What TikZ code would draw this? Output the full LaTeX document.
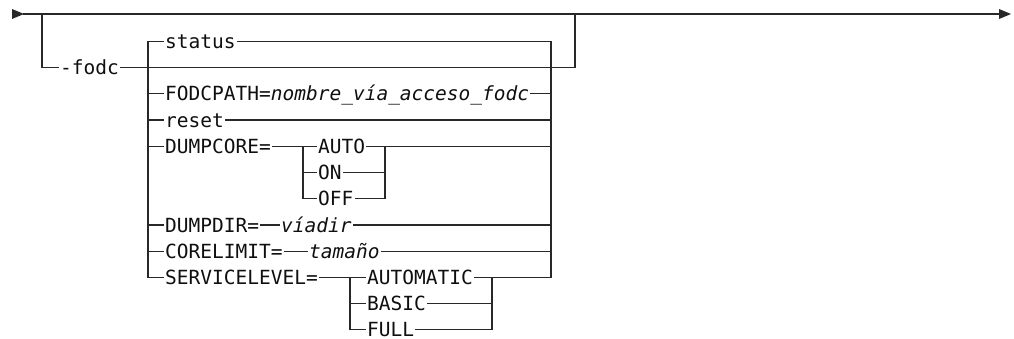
\documentclass[tikz,border=0pt]{standalone}
\usepackage{fontspec}
\newfontfamily\synfont{DejaVu Sans Mono}[ItalicFont={DejaVu Sans Mono Oblique}]
\definecolor{ln}{RGB}{40,40,40}
\definecolor{txt}{RGB}{15,15,15}
\begin{document}
\begin{tikzpicture}[x=1pt,y=-1pt,
  rail/.style={draw=ln,line width=1.2pt,line cap=rect},
  lbl/.style={font=\synfont\fontsize{19.5}{20}\selectfont, text=txt, inner xsep=1.5pt, inner ysep=0pt, text height=14.2pt, text depth=0pt, anchor=west}]
\useasboundingbox (0,0) rectangle (1014,339);

% main line and arrowheads
\coordinate (in) at (24,14);
\coordinate (out) at (999,14);
\coordinate (jA) at (42,14);
\coordinate (jB) at (575,14);
\fill[ln] (in) -- ++(-12,-5) -- ++(0,10) -- cycle;
\fill[ln] (out) -- ++(0,-5) -- ++(12,5) -- ++(-12,5) -- cycle;
\draw[rail] (in) -- (out);

% -fodc branch
\coordinate (bA) at (42,67.7);
\coordinate (bB) at (575,67.7);
\node[lbl] (fodc) at (58.5,67.7) {-fodc};
\draw[rail] (jA) -- (bA) -- (fodc.west);
\draw[rail] (fodc.east) -- (bB) -- (jB);

% inner choice box
\coordinate (Lt) at (148,41.5);
\coordinate (Lb) at (148,277.3);
\coordinate (Rt) at (551,41.5);
\coordinate (Rb) at (551,277.3);
\foreach \n/\y in {2/93.9,3/120.1,4/146.3,7/224.9,8/251.1} {
  \coordinate (L\n) at (148,\y);
  \coordinate (R\n) at (551,\y);
}

\node[lbl] (status) at (163.5,41.5) {status};
\node[lbl] (slev) at (163.5,277.3) {SERVICELEVEL=};
\draw[rail] (slev.west) -- (Lb) -- (Lt) -- (status.west);
\draw[rail] (status.east) -- (Rt) -- (Rb);

\node[lbl] (fpath) at (163.5,93.9) {FODCPATH=\textit{nombre\_vía\_acceso\_fodc}};
\draw[rail] (L2) -- (fpath.west);
\draw[rail] (fpath.east) -- (R2);

\node[lbl] (reset) at (163.5,120.1) {reset};
\draw[rail] (L3) -- (reset.west);
\draw[rail] (reset.east) -- (R3);

% DUMPCORE
\node[lbl] (dcore) at (163.5,146.3) {DUMPCORE=};
\coordinate (dL4) at (303,146.3);
\coordinate (dL5) at (303,172.5);
\coordinate (dL6) at (303,198.7);
\coordinate (dR4) at (385,146.3);
\coordinate (dR5) at (385,172.5);
\coordinate (dR6) at (385,198.7);
\node[lbl] (auto) at (316.5,146.3) {AUTO};
\node[lbl] (on) at (316.5,172.5) {ON};
\node[lbl] (off) at (316.5,198.7) {OFF};
\draw[rail] (L4) -- (dcore.west);
\draw[rail] (dcore.east) -- (auto.west);
\draw[rail] (dL4) -- (dL6) -- (off.west);
\draw[rail] (dL5) -- (on.west);
\draw[rail] (auto.east) -- (R4);
\draw[rail] (dR4) -- (dR6) -- (off.east);
\draw[rail] (on.east) -- (dR5);

% DUMPDIR
\node[lbl] (ddir) at (163.5,224.9) {DUMPDIR=};
\node[lbl] (vdir) at (279.5,224.9) {\itshape víadir};
\draw[rail] (L7) -- (ddir.west);
\draw[rail] (ddir.east) -- (vdir.west);
\draw[rail] (vdir.east) -- (R7);

% CORELIMIT
\node[lbl] (clim) at (163.5,251.1) {CORELIMIT=};
\node[lbl] (tam) at (307.5,251.1) {\itshape tamaño};
\draw[rail] (L8) -- (clim.west);
\draw[rail] (clim.east) -- (tam.west);
\draw[rail] (tam.east) -- (R8);

% SERVICELEVEL
\coordinate (sL9) at (350,277.3);
\coordinate (sL10) at (350,303.5);
\coordinate (sL11) at (350,329.7);
\coordinate (sR9) at (492,277.3);
\coordinate (sR10) at (492,303.5);
\coordinate (sR11) at (492,329.7);
\node[lbl] (amat) at (365.5,277.3) {AUTOMATIC};
\node[lbl] (basic) at (365.5,303.5) {BASIC};
\node[lbl] (full) at (365.5,329.7) {FULL};
\draw[rail] (slev.east) -- (amat.west);
\draw[rail] (sL9) -- (sL11) -- (full.west);
\draw[rail] (sL10) -- (basic.west);
\draw[rail] (amat.east) -- (Rb);
\draw[rail] (sR9) -- (sR11) -- (full.east);
\draw[rail] (basic.east) -- (sR10);
\end{tikzpicture}
\end{document}
